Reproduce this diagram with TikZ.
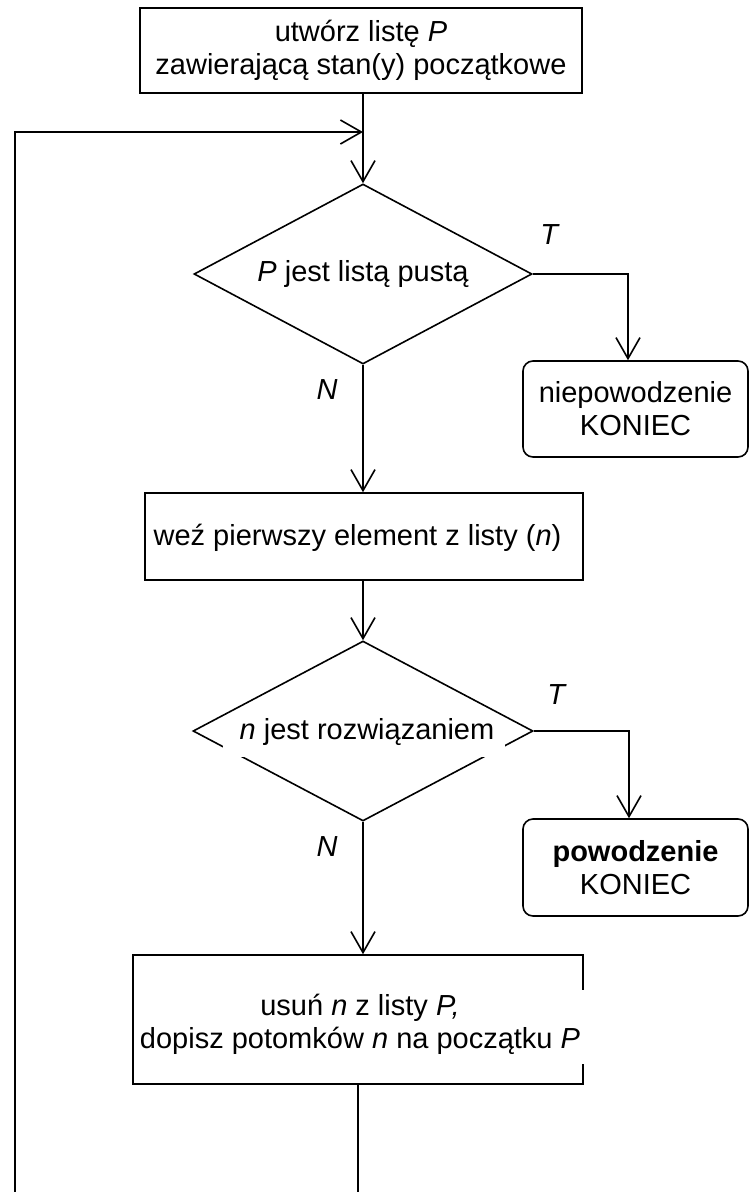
\documentclass[tikz,border=0pt]{standalone}
\usepackage{fontspec}
\setmainfont{Liberation Sans}
\usetikzlibrary{arrows.meta,shapes.geometric}
\begin{document}
\begin{tikzpicture}[x=1pt,y=-1pt,
  every node/.style={font=\fontsize{29}{33}\selectfont, inner sep=0pt},
  line/.style={line width=1.6pt, line join=miter},
  arr/.style={line width=1.6pt, line join=miter, -{Straight Barb[length=21pt,width=24pt,line width=1.6pt]}},
  box/.style={draw, line width=1.6pt, rectangle},
  rbox/.style={draw, line width=1.6pt, rectangle, rounded corners=10pt},
  dec/.style={draw, line width=1.6pt, diamond, aspect=1.88}]
\useasboundingbox (0,0) rectangle (750,1192);

\node[box, minimum width=442pt, minimum height=85pt, align=center] (start) at (361,50.5)
  {utwórz listę \textit{P}\\zawierającą stan(y) początkowe};

\node[dec, minimum width=338pt, minimum height=180pt] (d1) at (363,274) {\textit{P} jest listą pustą};

\node[rbox, minimum width=225pt, minimum height=96pt, align=center] (n1) at (635.5,409)
  {niepowodzenie\\KONIEC};

\node[box, minimum width=438pt, minimum height=87pt] (w) at (364,536.5) {};
\node (wt) at (357.5,538) {weź pierwszy element z listy (\textit{n})};

\node[dec, minimum width=340pt, minimum height=180pt] (d2) at (363,731) {};
\fill[white] (223,722) rectangle (505,757);
\node (d2t) at (367,732.5) {\textit{n} jest rozwiązaniem};

\node[rbox, minimum width=225pt, minimum height=97pt, align=center] (p) at (635.5,867.5)
  {\textbf{powodzenie}\\KONIEC};

\node[box, minimum width=450pt, minimum height=129pt] (u) at (358,1019.5) {};
\fill[white] (570,990) rectangle (595,1064);
\node[align=center] (ut) at (360,1024)
  {usuń \textit{n} z listy \textit{P,}\\dopisz potomków \textit{n} na początku \textit{P}};

\node (t1) at (550,235) {\textit{T}};
\node (t2) at (557,695) {\textit{T}};
\node (nl1) at (327,390) {\textit{N}};
\node (nl2) at (327,847) {\textit{N}};

\coordinate (lt) at (15,132);
\coordinate (lb) at (15,1192);
\coordinate (ub) at (358,1192);

\draw[arr] (d1.north |- start.south) -- (d1.north);
\draw[arr] (lb) -- (lt) -- (d1.north |- lt);
\draw[arr] (d1.east) -| ([xshift=-7.5pt]n1.north);
\draw[arr] (d1.south) -- (d1.south |- w.north);
\draw[arr] (d2.north |- w.south) -- (d2.north);
\draw[arr] (d2.east) -| ([xshift=-6.5pt]p.north);
\draw[arr] (d2.south) -- (d2.south |- u.north);
\draw[line] (u.south) -- (ub);
\end{tikzpicture}
\end{document}
